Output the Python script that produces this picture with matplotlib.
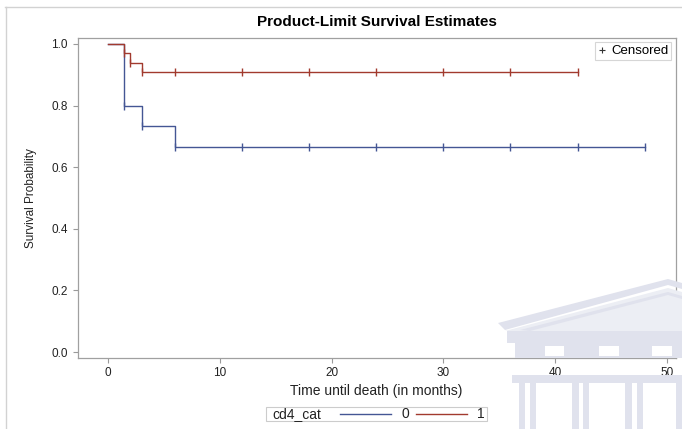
import matplotlib
matplotlib.use("Agg")
import matplotlib.pyplot as plt
from matplotlib.lines import Line2D
from matplotlib.patches import Rectangle, Polygon

plt.rcParams['font.family'] = ['Liberation Sans', 'DejaVu Sans']

# Kaplan-Meier steps
times_0 = [0, 1.4, 3, 6, 48]
surv_0 = [1.0, 0.8, 0.7333, 0.6667, 0.6667]
cens_t_0 = [1.4, 3, 6, 12, 18, 24, 30, 36, 42, 48]
cens_s_0 = [0.8, 0.7333, 0.6667, 0.6667, 0.6667, 0.6667, 0.6667, 0.6667, 0.6667, 0.6667]

times_1 = [0, 1.4, 2, 3, 42]
surv_1 = [1.0, 0.9697, 0.9394, 0.9091, 0.9091]
cens_t_1 = [1.4, 2, 3, 6, 12, 18, 24, 30, 36, 42]
cens_s_1 = [0.9697, 0.9394, 0.9091, 0.9091, 0.9091, 0.9091, 0.9091, 0.9091, 0.9091, 0.9091]

x_ticks = [0, 10, 20, 30, 40, 50]
y_ticks = [0.0, 0.2, 0.4, 0.6, 0.8, 1.0]
groups = ['0', '1']

blue = '#445694'
red = '#A23A2E'
W, H = 682, 429

fig = plt.figure(figsize=(W / 100, H / 100), dpi=100)


def px(x, y):
    # pixel coords (top-left origin) -> figure fraction
    return (x / W, 1 - y / H)


# faint building watermark in the lower right corner
wm = '#e0e2ed'
wm_light = '#eceef4'
def poly(pts, color, z=0):
    fig.patches.append(Polygon([px(*p) for p in pts], closed=True, transform=fig.transFigure,
                               facecolor=color, edgecolor='none', zorder=z))

poly([(505, 331), (668, 288), (682, 292), (682, 331)], wm_light)
poly([(498, 323), (668, 279), (682, 283), (682, 289), (668, 285), (505, 330)], wm)
poly([(520, 330), (668, 292), (682, 296), (682, 299), (668, 295), (530, 331)], wm)
poly([(507, 331), (682, 331), (682, 343), (507, 343)], wm)
poly([(515, 343), (682, 343), (682, 358), (515, 358)], wm)
for x0, x1 in [(545, 564), (599, 619), (652, 672)]:
    poly([(x0, 346), (x1, 346), (x1, 356), (x0, 356)], 'white')
poly([(512, 375), (682, 375), (682, 383), (512, 383)], wm)
for x0, x1 in [(519, 525), (530, 536), (572, 579), (583, 589), (625, 632), (637, 643), (676, 682)]:
    poly([(x0, 383), (x1, 383), (x1, 429), (x0, 429)], wm)

# outer frame of the image
fig.add_artist(Line2D([5 / W, 1], [1 - 7 / H, 1 - 7 / H], color='#d2d2d2', lw=1))
fig.add_artist(Line2D([5.5 / W, 5.5 / W], [0, 1 - 7 / H], color='#d2d2d2', lw=1))

ax_l, ax_r, ax_t, ax_b = 77.5, 675.7, 38, 357.7
ax = fig.add_axes([ax_l / W, 1 - ax_b / H, (ax_r - ax_l) / W, (ax_b - ax_t) / H])
ax.set_facecolor('none')

ax.step(times_0, surv_0, where='post', color=blue, lw=1)
ax.step(times_1, surv_1, where='post', color=red, lw=1)
ax.plot(cens_t_0, cens_s_0, ls='none', marker='|', ms=6, mew=1, color=blue)
ax.plot(cens_t_1, cens_s_1, ls='none', marker='|', ms=6, mew=1, color=red)

ax.set_xlim(-2.73, 50.78)
ax.set_ylim(-0.018, 1.019)
ax.set_xticks(x_ticks)
ax.set_yticks(y_ticks)
ax.set_yticklabels([f'{v:.1f}' for v in y_ticks])
ax.tick_params(colors='#9a9a9a', labelcolor='#222222', labelsize=8.5, length=3.5, width=0.8)
for s in ax.spines.values():
    s.set_color('#a0a0a0')
    s.set_linewidth(0.9)

ax.set_xlabel('Time until death (in months)', fontsize=10, color='#222222', labelpad=3)
ax.set_ylabel('Survival Probability', fontsize=8.5, color='#222222', labelpad=10)
fig.text(0.5 * (ax_l + ax_r) / W, 1 - 22 / H, 'Product-Limit Survival Estimates',
         ha='center', va='center', fontsize=11, fontweight='bold')

# censored legend
leg = ax.legend([Line2D([], [], ls='none', marker='+', ms=5, mew=0.8, color='#333333')],
                ['Censored'], loc='upper right', fontsize=9.5, frameon=True, fancybox=False,
                handlelength=0.6, handletextpad=0.4, borderpad=0.2, borderaxespad=0,
                bbox_to_anchor=((671 - ax_l) / (ax_r - ax_l), (ax_b - 42.3) / (ax_b - ax_t)))
leg.get_frame().set_edgecolor('#cccccc')
leg.get_frame().set_linewidth(0.8)

# group legend at the bottom
fig.patches.append(Rectangle(px(265.7, 420.7), (487 - 265.7) / W, 14 / H,
                             transform=fig.transFigure, facecolor='white',
                             edgecolor='#cccccc', lw=0.8))
fig.text(*px(272, 413.7), 'cd4_cat', ha='left', va='center', fontsize=10, color='#222222')
for (x0, x1, xt), c, g in zip([(340, 391, 401.5), (416, 467, 476.5)], [blue, red], groups):
    fig.add_artist(Line2D([x0 / W, x1 / W], [1 - 413.7 / H] * 2, color=c, lw=1))
    fig.text(*px(xt, 413.7), g, ha='left', va='center', fontsize=10, color='#222222')

fig.savefig('out.png', dpi=100)
